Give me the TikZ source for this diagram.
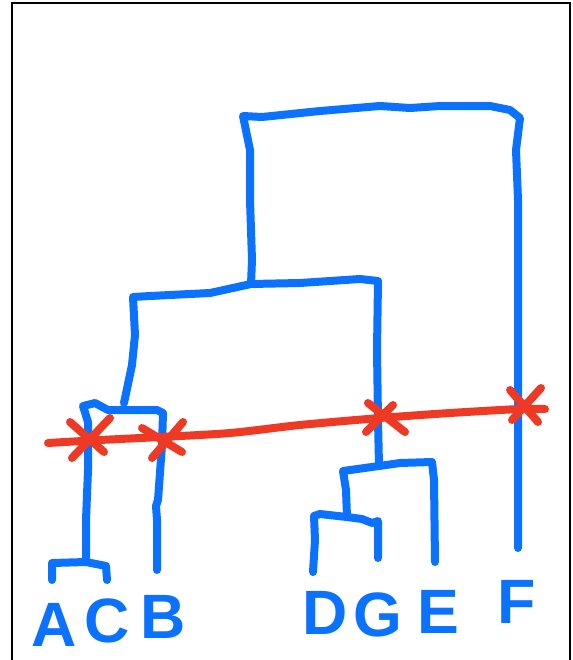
\documentclass[tikz,border=0pt]{standalone}
\usepackage{fontspec}
\newfontfamily\handfont{Liberation Sans}
\usetikzlibrary{positioning}
\definecolor{treeblue}{HTML}{0A72FF}
\definecolor{cutred}{HTML}{EE3A24}

\begin{document}
\begin{tikzpicture}[
    x=0.75pt, y=-0.75pt,
    branch/.style={draw=treeblue, line width=6pt, line cap=round, line join=round},
    cutline/.style={draw=cutred, line width=6pt, line cap=round, line join=round},
    leaf/.style={text=treeblue, font=\handfont\bfseries\fontsize{47}{47}\selectfont, anchor=base, inner sep=0pt}
]
\useasboundingbox (0,0) rectangle (572,660);

% ============================================================
% FRAME
% ============================================================
\draw[line width=2.2pt] (12,668) -- (12,3) -- (570,3) -- (570,668);

% ============================================================
% LEAVES
% ============================================================
\node[leaf] (A) at (54,646) {A};
\node[leaf] (C) at (107,642) {C};
\node[leaf] (B) at (163,638) {B};
\node[leaf] (D) at (325,634) {D};
\node[leaf] (G) at (378,636) {G};
\node[leaf] (E) at (438,633) {E};
\node[leaf] (F) at (517,623) {F};

% ============================================================
% JOINTS
% ============================================================
\coordinate (ac)   at (86,562);
\coordinate (acb)  at (124,403);
\coordinate (dg)   at (347,517);
\coordinate (dge)  at (379,466);
\coordinate (mid)  at (251,284);
\coordinate (root) at (243,116);

% ============================================================
% BRANCHES
% ============================================================
% A + C
\draw[branch] (52,580) -- (52,563) -- (ac) -- (106,566) -- (107,580);
% (AC) + B
\draw[branch] (ac) -- (86,520) -- (88,470) -- (88,422) -- (83,406)
    -- (95,403) -- (108,410) -- (157,410) -- (163,413)
    -- (162,445) -- (158,500) -- (156,506) -- (157,520) -- (157,570);
% D + G
\draw[branch] (313,572) -- (315,540) -- (314,516) -- (320,514)
    -- (dg) -- (362,519) -- (372,523) -- (378,521) -- (378,558);
% (DG) + E
\draw[branch] (dg) -- (346,490) -- (343,471) -- (dge)
    -- (400,463) -- (432,462) -- (434,480) -- (435,562);
% (ACB) + (DGE)
\draw[branch] (acb) -- (132,365) -- (135,335) -- (133,297)
    -- (150,296) -- (210,293) -- (mid) -- (300,283) -- (360,279) -- (378,281)
    -- (377,350) -- (378,420) -- (dge);
% root
\draw[branch] (mid) -- (252,260) -- (250,200) -- (250,150) -- (root)
    -- (262,117) -- (320,111) -- (380,106) -- (410,108) -- (440,106)
    -- (490,106) -- (510,110) -- (520,118)
    -- (516,150) -- (518,200) -- (518,548);

% ============================================================
% CUT LINE
% ============================================================
\draw[cutline] plot[smooth] coordinates {(48,443) (100,440) (160,437) (230,433) (300,425) (380,418) (450,413) (520,409) (545,409)};
% crosses
\draw[cutline] (70,422) -- (104,452)  (110,418) -- (72,458);
\draw[cutline] (142,428) -- (182,452) (183,422) -- (152,458);
\draw[cutline] (368,403) -- (405,432) (393,405) -- (366,432);
\draw[cutline] (510,390) -- (538,422) (541,388) -- (512,420);

\end{tikzpicture}
\end{document}
